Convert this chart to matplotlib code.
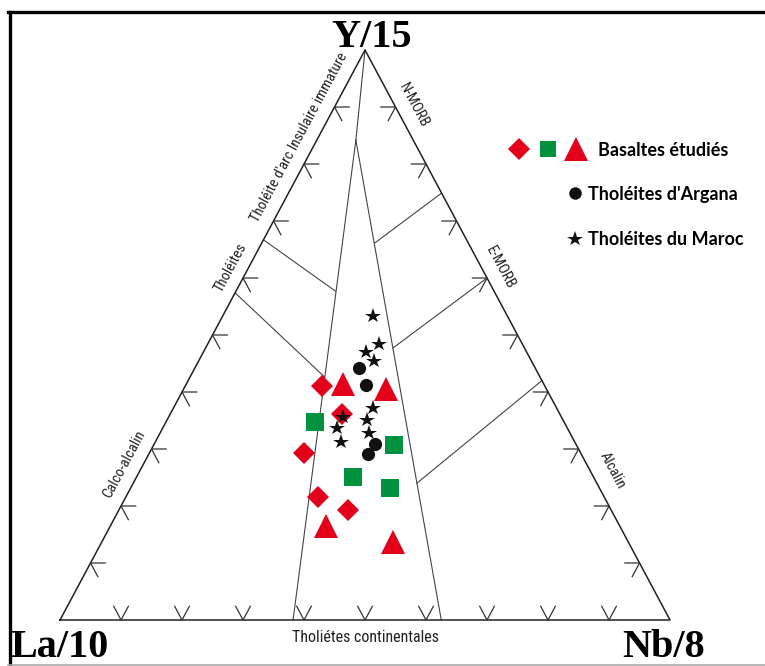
import numpy as np
import matplotlib
matplotlib.use('Agg')
import matplotlib.pyplot as plt
from matplotlib import font_manager
from matplotlib.lines import Line2D
from matplotlib.legend_handler import HandlerTuple

# compositions in % : La/10, Y/15, Nb/8
diam_la = [36.5, 35.7, 45.3, 47.0, 43.1]
diam_y = [41.0, 36.1, 29.3, 21.5, 19.3]
diam_nb = [22.5, 28.2, 25.4, 31.5, 37.6]

sq_la = [40.8, 29.9, 39.5, 34.3]
sq_y = [34.8, 30.7, 25.0, 23.1]
sq_nb = [24.4, 39.4, 35.5, 42.6]

tri_la = [32.9, 26.3, 48.2, 38.5]
tri_y = [41.4, 40.5, 16.5, 13.7]
tri_nb = [25.7, 33.2, 35.3, 47.8]

argana_la = [28.9, 29.2, 32.9, 34.9]
argana_y = [44.2, 41.3, 30.9, 29.2]
argana_nb = [26.9, 29.5, 36.2, 35.9]

maroc_la = [22.1, 23.5, 26.3, 25.8, 30.1, 35.8, 32.1, 37.8, 32.9, 38.4]
maroc_y = [53.3, 48.4, 47.1, 45.4, 37.2, 35.7, 35.1, 33.7, 32.8, 31.2]
maroc_nb = [24.6, 28.1, 26.6, 28.8, 32.7, 28.5, 32.8, 28.5, 34.3, 30.4]

# field boundaries, (Y, Nb) fractions of each end
field_lines = [
    [(1.0, 0.0), (0.842, 0.064)],
    [(0.842, 0.064), (0.0, 0.382)],
    [(0.842, 0.064), (0.0, 0.625)],
    [(0.667, 0.0), (0.577, 0.163)],
    [(0.574, 0.0), (0.426, 0.221)],
    [(0.749, 0.251), (0.661, 0.185)],
    [(0.600, 0.400), (0.477, 0.307)],
    [(0.420, 0.580), (0.240, 0.465)],
]
tick_vals = [0.1, 0.2, 0.3, 0.4, 0.5, 0.6, 0.7, 0.8, 0.9]

RED = '#e2001a'
GREEN = '#00923f'
BLACK = '#111111'
H = np.sqrt(3) / 2


def tern(la, y, nb):
    la, y, nb = (np.asarray(v, dtype=float) for v in (la, y, nb))
    s = la + y + nb
    return nb / s + 0.5 * y / s, H * y / s


def tern_yn(y, nb):
    return tern(1 - y - nb, y, nb)


def pick(*names):
    avail = {f.name for f in font_manager.fontManager.ttflist}
    for n in names:
        if n in avail:
            return n
    return 'DejaVu Sans'


narrow = pick('Liberation Sans Narrow', 'Roboto Condensed', 'Open Sans Condensed', 'Liberation Sans')
serif = pick('Liberation Serif', 'DejaVu Serif')
legfont = pick('Lato', 'Open Sans', 'Liberation Sans')

fig = plt.figure(figsize=(7.65, 6.66), dpi=100)
ax = fig.add_axes([0, 0, 1, 1])
ax.set_xlim(-0.0984, 1.1557)
ax.set_ylim(-0.0699, 0.942)
ax.axis('off')

# triangle
ax.plot([0, 1, 0.5, 0], [0, 0, H, 0], color='#222222', lw=1.1, zorder=2)

# field boundaries
for (y1, n1), (y2, n2) in field_lines:
    xa, ya = tern_yn(y1, n1)
    xb, yb = tern_yn(y2, n2)
    ax.plot([xa, xb], [ya, yb], color='#444444', lw=0.8, zorder=1)

# ternary ticks
L = 0.024
for t in tick_vals:
    x0, y0 = tern_yn(t, 0)
    ax.plot([x0 + L, x0, x0 + 0.5 * L], [y0, y0, y0 - H * L], color='#333333', lw=0.9)
    x0, y0 = tern_yn(0, t)
    ax.plot([x0 - 0.5 * L, x0, x0 + 0.5 * L], [H * L, 0, H * L], color='#333333', lw=0.9)
    x0, y0 = tern_yn(t, 1 - t)
    ax.plot([x0 - L, x0, x0 - 0.5 * L], [y0, y0, y0 - H * L], color='#333333', lw=0.9)

# data
x, y = tern(diam_la, diam_y, diam_nb)
ax.plot(x, y, 'D', ms=11.5, color=RED, mew=0, zorder=3)
x, y = tern(sq_la, sq_y, sq_nb)
ax.plot(x, y, 's', ms=12.5, color=GREEN, mew=0, zorder=3)
x, y = tern(tri_la, tri_y, tri_nb)
ax.plot(x, y, '^', ms=17.5, color=RED, mew=0, zorder=3)
x, y = tern(argana_la, argana_y, argana_nb)
ax.plot(x, y, 'o', ms=9.5, color=BLACK, mew=0, zorder=4)
x, y = tern(maroc_la, maroc_y, maroc_nb)
ax.plot(x, y, '*', ms=11.5, color=BLACK, mew=0, zorder=4)

# field names
lab = dict(family=narrow, fontsize=10.5, color='#222222', ha='center', va='center',
           rotation_mode='anchor', transform_rotates_text=True)
for txt, yy, nn in [("Tholéite d'arc Insulaire immature", 0.846, -0.030),
                    ('Tholéites', 0.6175, -0.029),
                    ('Calco-alcalin', 0.274, -0.031)]:
    ax.text(*tern(1 - yy - nn, yy, nn), txt, rotation=60, **lab)
for txt, yy, nn in [('N-MORB', 0.902, 0.129),
                    ('E-MORB', 0.6175, 0.4135),
                    ('Alcalin', 0.263, 0.774)]:
    ax.text(*tern(1 - yy - nn, yy, nn), txt, rotation=-60, **lab)
ax.text(0.5, -0.026, 'Tholiétes continentales', family=narrow, fontsize=11.5,
        color='#222222', ha='center', va='center')

# apex labels
big = dict(family=serif, fontweight='bold', fontsize=29, color='black', va='baseline')
fig.text(372 / 765, 1 - 47 / 666, 'Y/15', ha='center', **big)
fig.text(10 / 765, 1 - 657 / 666, 'La/10', ha='left', **big)
fig.text(705 / 765, 1 - 657 / 666, 'Nb/8', ha='right', **big)

# legend
prop = font_manager.FontProperties(family=legfont, weight='bold', size=13)
h_d = Line2D([], [], ls='none', marker='D', ms=11.5, color=RED, mew=0)
h_s = Line2D([], [], ls='none', marker='s', ms=11, color=GREEN, mew=0)
h_t = Line2D([], [], ls='none', marker='^', ms=17.5, color=RED, mew=0)
leg1 = ax.legend([(h_d, h_s, h_t)], ['Basaltes étudiés'],
                 handler_map={tuple: HandlerTuple(ndivide=None, pad=0.2)},
                 loc='center left', bbox_to_anchor=(506 / 765, 1 - 150 / 666),
                 frameon=False, handlelength=4.6, handletextpad=0.5,
                 borderpad=0, borderaxespad=0, prop=prop)
ax.add_artist(leg1)
h_c = Line2D([], [], ls='none', marker='o', ms=9, color=BLACK, mew=0)
h_st = Line2D([], [], ls='none', marker='*', ms=11.5, color=BLACK, mew=0)
ax.legend([h_c, h_st], ["Tholéites d'Argana", 'Tholéites du Maroc'],
          loc='center left', bbox_to_anchor=(567 / 765, 1 - 217 / 666),
          frameon=False, handlelength=0.85, handletextpad=0.3, labelspacing=1.6,
          borderpad=0, borderaxespad=0, prop=prop)

# frame
fig.add_artist(Line2D([9.5 / 765, 9.5 / 765], [0, 1 - 12 / 666], transform=fig.transFigure,
                      color='black', lw=2.4))
fig.add_artist(Line2D([8 / 765, 1], [1 - 12 / 666, 1 - 12 / 666], transform=fig.transFigure,
                      color='black', lw=2.4))
fig.add_artist(Line2D([8 / 765, 1], [1 - 664.5 / 666, 1 - 664.5 / 666], transform=fig.transFigure,
                      color='#aaaaaa', lw=1.2))

fig.savefig('out.png', dpi=100, facecolor='white')
